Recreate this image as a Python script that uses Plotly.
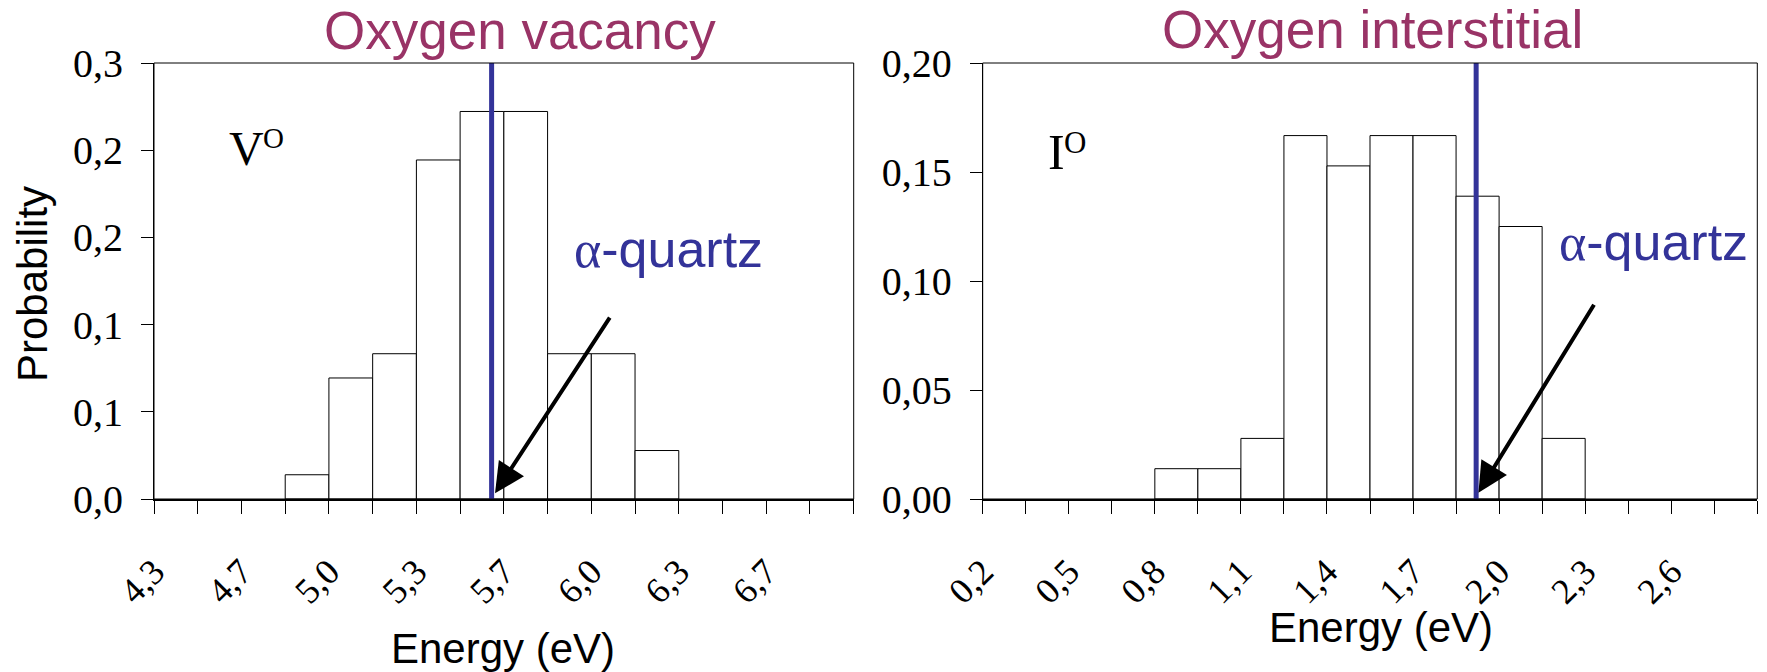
import plotly.graph_objects as go

W, H = 1767, 672

# ---- Oxygen vacancy: formation energy histogram ----
vac_centers = [4.9167, 5.0833, 5.25, 5.4167, 5.5833, 5.75, 5.9167, 6.0833, 6.25]
vac_prob = [0.0139, 0.0694, 0.0833, 0.1944, 0.2222, 0.2222, 0.0833, 0.0833, 0.0278]
vac_bin_width = 0.16667
vac_quartz = 5.62
vac_tickvals = [4.3333, 4.5, 4.6667, 4.8333, 5.0, 5.1667, 5.3333, 5.5, 5.6667,
                5.8333, 6.0, 6.1667, 6.3333, 6.5, 6.6667, 6.8333, 7.0]
vac_ticktext = ["4,3", "", "4,7", "", "5,0", "", "5,3", "", "5,7",
                "", "6,0", "", "6,3", "", "6,7", "", ""]
vac_ytickvals = [0.0, 0.05, 0.10, 0.15, 0.20, 0.25]
vac_yticktext = ["0,0", "0,1", "0,1", "0,2", "0,2", "0,3"]

# ---- Oxygen interstitial: formation energy histogram ----
int_centers = [0.875, 1.025, 1.175, 1.325, 1.475, 1.625, 1.775, 1.925, 2.075, 2.225]
int_prob = [0.0139, 0.0139, 0.0278, 0.1667, 0.1528, 0.1667, 0.1667, 0.1389, 0.125, 0.0278]
int_bin_width = 0.15
int_quartz = 1.92
int_tickvals = [0.2, 0.35, 0.5, 0.65, 0.8, 0.95, 1.1, 1.25, 1.4, 1.55,
                1.7, 1.85, 2.0, 2.15, 2.3, 2.45, 2.6, 2.75, 2.9]
int_ticktext = ["0,2", "", "0,5", "", "0,8", "", "1,1", "", "1,4", "",
                "1,7", "", "2,0", "", "2,3", "", "2,6", "", ""]
int_ytickvals = [0.0, 0.05, 0.10, 0.15, 0.20]
int_yticktext = ["0,00", "0,05", "0,10", "0,15", "0,20"]

SANS = "Liberation Sans, Arial, sans-serif"
SERIF = "Liberation Serif, Times New Roman, serif"
PLUM = "#993366"
INDIGO = "#333399"


def px(x):
    return x / W


def py(y):
    return 1 - y / H


fig = go.Figure()

bar_style = dict(marker=dict(color="white", line=dict(color="black", width=1)),
                 showlegend=False, hoverinfo="x+y")
fig.add_trace(go.Bar(x=vac_centers, y=vac_prob, width=vac_bin_width,
                     xaxis="x", yaxis="y", **bar_style))
fig.add_trace(go.Bar(x=int_centers, y=int_prob, width=int_bin_width,
                     xaxis="x2", yaxis="y2", **bar_style))

# alpha-quartz reference energies
fig.add_trace(go.Scatter(x=[vac_quartz, vac_quartz], y=[0, vac_ytickvals[-1]],
                         mode="lines", line=dict(color=INDIGO, width=5),
                         xaxis="x", yaxis="y", showlegend=False))
fig.add_trace(go.Scatter(x=[int_quartz, int_quartz], y=[0, int_ytickvals[-1]],
                         mode="lines", line=dict(color=INDIGO, width=5),
                         xaxis="x2", yaxis="y2", showlegend=False))

xcommon = dict(ticks="outside", ticklen=13, tickwidth=1, tickcolor="black",
               tickangle=-45, tickfont=dict(family=SERIF, size=36, color="black"),
               showline=True, linewidth=2, linecolor="black", automargin=False,
               showgrid=False, zeroline=False, ticklabelstandoff=22)
ycommon = dict(ticks="outside", ticklen=12, tickwidth=1, tickcolor="black",
               tickfont=dict(family=SERIF, size=40, color="black"),
               showline=True, linewidth=1, linecolor="black", automargin=False,
               showgrid=False, zeroline=False, ticklabelstandoff=10)

ydom = [py(499), py(63)]
fig.update_layout(
    width=W, height=H,
    margin=dict(l=0, r=0, t=0, b=0, autoexpand=False),
    paper_bgcolor="white", plot_bgcolor="white",
    barmode="overlay",
    xaxis=dict(domain=[px(154), px(853.7)], range=[vac_tickvals[0], vac_tickvals[-1]],
               tickmode="array", tickvals=vac_tickvals, ticktext=vac_ticktext,
               anchor="y", **xcommon),
    yaxis=dict(domain=ydom, range=[0, vac_ytickvals[-1]], tickmode="array",
               tickvals=vac_ytickvals, ticktext=vac_yticktext, anchor="x", **ycommon),
    xaxis2=dict(domain=[px(982.7), px(1757.3)], range=[int_tickvals[0], int_tickvals[-1]],
                tickmode="array", tickvals=int_tickvals, ticktext=int_ticktext,
                anchor="y2", **xcommon),
    yaxis2=dict(domain=ydom, range=[0, int_ytickvals[-1]], tickmode="array",
                tickvals=int_ytickvals, ticktext=int_yticktext, anchor="x2", **ycommon),
)

# thin frame around each plot area
for xr, yr in (("x domain", "y domain"), ("x2 domain", "y2 domain")):
    fig.add_shape(type="rect", xref=xr, yref=yr, x0=0, x1=1, y0=0, y1=1,
                  line=dict(color="black", width=1), fillcolor="rgba(0,0,0,0)")


def label(text, x, y, size, color="black", family=SANS, xanchor="center", angle=0):
    fig.add_annotation(text=text, xref="paper", yref="paper", x=px(x), y=py(y),
                       xanchor=xanchor, yanchor="middle", showarrow=False,
                       textangle=angle, font=dict(family=family, size=size, color=color))


# panel titles
label("Oxygen vacancy", 519.5, 31, 53, PLUM)
label("Oxygen interstitial", 1372.5, 30, 53, PLUM)

# defect symbols
label("V", 227, 148, 48, family=SERIF, xanchor="left")
label("O", 261, 138, 29, family=SERIF, xanchor="left")
label("I", 1046, 152, 50, family=SERIF, xanchor="left")
label("O", 1062, 142, 31, family=SERIF, xanchor="left")

# alpha-quartz labels
aq = '<span style="font-family:Liberation Serif">α</span>-quartz'
label(aq, 572, 249, 52, INDIGO, xanchor="left")
label(aq, 1557, 242, 52, INDIGO, xanchor="left")

# axis titles
label("Energy (eV)", 503, 648, 42)
label("Energy (eV)", 1381, 627, 42)
label("Probability", 32, 284, 42, angle=-90)

# arrows pointing at the alpha-quartz energies
arrow = dict(text="", showarrow=True, arrowhead=2, arrowsize=1.5, arrowwidth=4,
             arrowcolor="black", standoff=0)
fig.add_annotation(x=5.633, y=0.0033, ax=6.074, ay=0.1049, xref="x", yref="y",
                   axref="x", ayref="y", **arrow)
fig.add_annotation(x=1.928, y=0.0029, ax=2.334, ay=0.0898, xref="x2", yref="y2",
                   axref="x2", ayref="y2", **arrow)

fig.write_html("out.html")
